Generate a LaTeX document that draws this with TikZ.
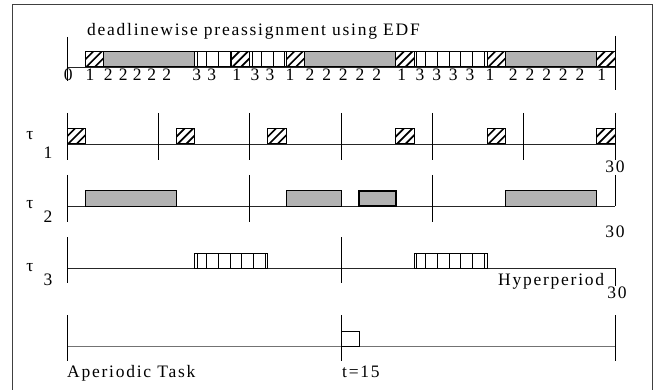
\documentclass[tikz,border=0pt]{standalone}
\usepackage{fontspec}
\setmainfont{Liberation Serif}[LetterSpace=10]
\newfontfamily\digitfont{Liberation Serif}

% job boxes: start time, end time, top edge (height 15)
\newcommand\hatchbox[3]{%
  \begin{scope}
    \clip (#1,#3) rectangle (#2,#3+15);
    \foreach \k in {-2,...,1}
      {\draw[hatchline] ([xshift=\k*8.5pt+1pt]#1,#3+15) -- ++(20pt,20pt);}
  \end{scope}
  \draw[jobedge] (#1,#3) rectangle (#2,#3+15);}
\newcommand\stripebox[3]{%
  \begin{scope}
    \clip (#1,#3) rectangle (#2,#3+15);
    \foreach \k in {1,...,7}
      {\draw[stripeline] ([xshift=\k*11.7pt]#1,#3) -- ++(0pt,-15pt);}
    \draw[stripeline] ([xshift=2.5pt]#1,#3) -- ++(0pt,-15pt);
  \end{scope}
  \draw[jobedge] (#1,#3) rectangle (#2,#3+15);}

\begin{document}
\begin{tikzpicture}[x=1pt,y=-1pt,
  txt/.style={inner sep=0pt, font=\fontsize{17.5}{19}\selectfont},
  dig/.style={inner sep=0pt, font=\digitfont\fontsize{17.5}{19}\selectfont, anchor=base},
  framec/.style={draw=black!75, line width=1pt},
  axisline/.style={draw=black!85, line width=0.8pt},
  apaxis/.style={draw=black!55, line width=1pt},
  tickline/.style={draw=black, line width=0.9pt},
  jobedge/.style={draw=black, line width=1pt},
  grayjob/.style={draw=black, fill=gray!60, line width=1pt},
  hatchline/.style={draw=black, line width=1.7pt},
  stripeline/.style={draw=black, line width=0.9pt}]
\useasboundingbox (0,0) rectangle (666,390);

% outer frame, open at the bottom
\draw[framec] (12.5,395) -- (12.5,5) -- (652,5) -- (652,395);

\node[txt, anchor=base west] (title) at (87,36) {deadlinewise preassignment using EDF};

% sequence numbers under the schedule bar
\foreach \px/\d [count=\i] in {68.3/0, 90/1, 108.3/2, 123.3/2, 137.3/2, 151.7/2, 166.7/2,
    196.7/3, 211.7/3, 236.7/1, 255/3, 270/3, 290/1, 310/2, 326.7/2, 343.3/2, 360/2,
    376.7/2, 401.7/1, 420/3, 436.7/3, 453.3/3, 470/3, 490/1, 513.3/2, 530/2, 546.7/2,
    563.3/2, 580/2, 601.7/1}
  {\node[dig] (seq\i) at (\px,80.5) {\d};}

% task labels
\node[txt] (tauA) at (30,136) {τ};
\node[txt] (tauAsub) at (48,153) {1};
\node[txt] (tauB) at (30,205) {τ};
\node[txt] (tauBsub) at (48,217) {2};
\node[txt] (tauC) at (30,268) {τ};
\node[txt] (tauCsub) at (48,280) {3};

\node[txt, anchor=base] (endA) at (615,173) {30};
\node[txt, anchor=base] (endB) at (615,237) {30};
\node[txt, anchor=base west] (hyper) at (498,285) {Hyperperiod};
\node[txt, anchor=base] (endC) at (617,298) {30};
\node[txt, anchor=base west] (aper) at (67,377) {Aperiodic Task};
\node[txt, anchor=base west] (tfifteen) at (342,377) {t=15};

\begin{scope}[xshift=67pt, x=18.27pt]
  % EDF schedule bar
  \draw[axisline] (0,67) -- (30,67);
  \draw[tickline] (0,37) -- (0,81);
  \draw[tickline] (30,36) -- (30,90);
  \hatchbox{1}{2}{52}
  \draw[grayjob] (2,52) rectangle (7,67);
  \stripebox{7}{9}{52}
  \hatchbox{9}{10}{52}
  \stripebox{10}{12}{52}
  \hatchbox{12}{13}{52}
  \draw[grayjob] (13,52) rectangle (18,67);
  \hatchbox{18}{19}{52}
  \stripebox{19}{23}{52}
  \hatchbox{23}{24}{52}
  \draw[grayjob] (24,52) rectangle (29,67);
  \hatchbox{29}{30}{52}

  % task 1, period 5
  \draw[axisline] (0,144) -- (30,144);
  \foreach \t in {0,5,...,30} {\draw[tickline] (\t,113) -- (\t,160);}
  \foreach \t in {0,6,11,18,23,29} {\hatchbox{\t}{\t+1}{129}}

  % task 2, period 10
  \draw[axisline] (0,206) -- (30,206);
  \foreach \t in {0,10,20} {\draw[tickline] (\t,175) -- (\t,222);}
  \draw[tickline] (30,175) -- (30,206);
  \draw[grayjob] (1,191) rectangle (6,206);
  \draw[grayjob] (12,191) rectangle (15,206);
  \draw[grayjob, line width=1.8pt] (16,191) rectangle (18,206);
  \draw[grayjob] (24,191) rectangle (29,206);

  % task 3, period 15
  \draw[axisline] (0,268) -- (30,268);
  \foreach \t in {0,15} {\draw[tickline] (\t,237) -- (\t,283);}
  \draw[tickline] (30,268) -- (30,286);
  \stripebox{7}{11}{253}
  \stripebox{19}{23}{253}

  % aperiodic task arriving at t=15
  \draw[apaxis] (0,346) -- (30,346);
  \foreach \t in {0,15,30} {\draw[tickline] (\t,315) -- (\t,361);}
  \draw[jobedge, line width=0.8pt] (15,331) rectangle (16,346);
\end{scope}
\end{tikzpicture}
\end{document}
